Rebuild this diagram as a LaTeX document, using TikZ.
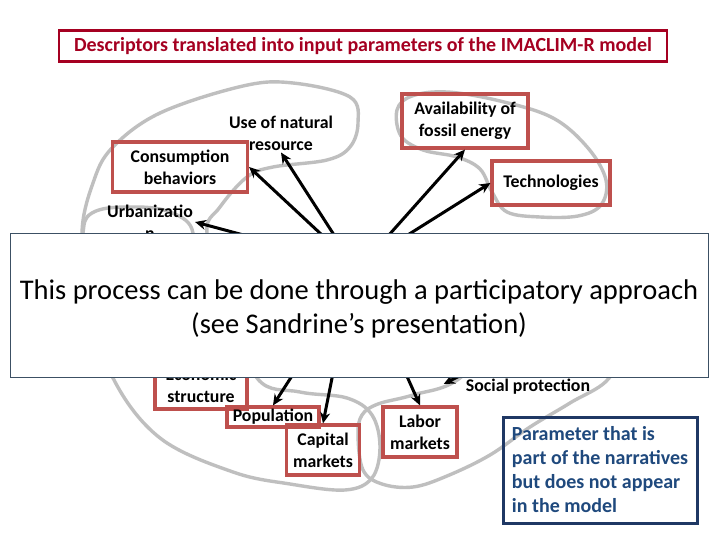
\documentclass[tikz,border=0pt]{standalone}
\usepackage{fontspec}
\setmainfont{Carlito}
\usetikzlibrary{arrows.meta, positioning}

\definecolor{titlered}{RGB}{165,0,33}
\definecolor{boxred}{RGB}{190,80,77}
\definecolor{blobgray}{RGB}{191,191,191}
\definecolor{navy}{RGB}{31,56,100}
\definecolor{navytext}{RGB}{31,73,125}
\definecolor{slate}{RGB}{60,80,100}

\newcommand{\lblfont}{\fontsize{17.8}{22}\selectfont\bfseries}

\begin{document}
\begin{tikzpicture}[
    x=1pt, y=-1pt,
    >=Stealth,
    box/.style={draw=boxred, line width=3.2pt, inner sep=1pt, align=center, font=\lblfont},
    plain_text/.style={align=center, inner sep=2pt, font=\lblfont},
    blob/.style={draw=blobgray, line width=3.4pt},
    arrow/.style={-{Stealth[length=11pt,width=10pt]}, line width=3pt},
    cover_box/.style={draw=slate, line width=0.8pt, fill=white},
    cover_text/.style={align=center, font=\fontsize{28.5}{34}\selectfont},
    note_box/.style={draw=navy, line width=3pt, align=left, inner sep=2pt, text=navytext, font=\fontsize{20}{24}\selectfont\bfseries}
]

\useasboundingbox[fill=white] (0,0) rectangle (720,540);

% TITLE
\node[draw=titlered, line width=2.6pt, minimum width=608pt, minimum height=31pt, inner sep=1pt, text=titlered, font=\fontsize{20}{22}\selectfont\bfseries] (title) at (363,46) {Descriptors translated into input parameters of the IMACLIM-R model};

% GREY GROUPINGS
\draw[blob] plot[smooth cycle, tension=0.6] coordinates {(82,233) (93,183) (112,148) (160,113) (243,86) (293,83) (350,97) (358,123) (350,147) (327,160) (273,167) (247,177) (220,207) (207,233) (230,300) (257,378) (300,392) (347,398) (372,415) (380,447) (372,478) (345,490) (290,484) (233,472) (160,438) (113,378) (90,300)};
\draw[blob] plot[smooth cycle, tension=0.7] coordinates {(83,233) (92,213) (127,207) (170,212) (193,233) (180,270) (125,278) (85,262)};
\draw[blob] plot[smooth cycle, tension=0.6] coordinates {(397,110) (412,96) (447,92) (500,101) (553,118) (588,148) (606,180) (601,205) (578,216) (540,217) (507,212) (492,192) (480,169) (457,157) (423,150) (401,136)};
\draw[blob] plot[smooth cycle, tension=0.6] coordinates {(460,378) (413,395) (378,404) (362,415) (358,435) (363,470) (382,484) (413,487) (447,476) (490,455) (530,427) (570,403) (610,377) (625,330) (580,300) (510,320)};

% DESCRIPTORS ABOVE
\node[plain_text] (nat) at (281,133) {Use of natural\\resource};
\node[box, minimum width=135pt, minimum height=50pt] (cons) at (180,167) {Consumption\\behaviors};
\node[box, minimum width=126pt, minimum height=54pt] (avail) at (465,121) {Availability of\\fossil energy};
\node[box, minimum width=118pt, minimum height=44pt] (tech) at (551,183) {Technologies};
\node[plain_text] (urb) at (150,222) {Urbanizatio\\n};

% DESCRIPTORS BELOW
\node[box, minimum width=92pt, minimum height=48pt] (econ) at (201,385) {Economic\\structure};
\node[box, minimum width=92pt, minimum height=20pt, inner sep=0pt] (pop) at (273,417) {Population};
\node[box, minimum width=73pt, minimum height=50pt] (cap) at (323,450) {Capital\\markets};
\node[box, minimum width=74pt, minimum height=50pt] (lab) at (420,432) {Labor\\markets};
\node[plain_text] (soc) at (528,387) {Social protection};

% ARROW TAILS (hidden under the cover box)
\coordinate (t_cons) at (337,249);
\coordinate (t_nat) at (345,252);
\coordinate (t_urb) at (277,244);
\coordinate (t_avail) at (372,254);
\coordinate (t_tech) at (387,248);
\coordinate (t_pop) at (299,365);
\coordinate (t_cap) at (335,363);
\coordinate (t_lab) at (401,363);
\coordinate (t_soc) at (481,365);

\draw[arrow] (t_cons) -- (cons.east);
\draw[arrow] (t_nat) -- (nat.south);
\draw[arrow] (t_urb) -- (urb.east);
\draw[arrow] (t_avail) -- (avail.south);
\draw[arrow] (t_tech) -- (tech.west);
\draw[arrow] (t_pop) -- (pop.north);
\draw[arrow] (t_cap) -- (cap.north);
\draw[arrow] (t_lab) -- (lab.north);
\draw[arrow] (t_soc) -- ([xshift=-20pt, yshift=3pt]soc.west);

% COVER
\node[cover_box, minimum width=698pt, minimum height=144pt] (cover) at (359,305) {};
\node[cover_text] (cover_label) at (359,309) {This process can be done through a participatory approach\\(see Sandrine’s presentation)};

% LEGEND
\node[note_box, minimum width=194pt, minimum height=106pt] (note) at (600,470) {Parameter that is\\part of the narratives\\but does not appear\\in the model};

\end{tikzpicture}
\end{document}
